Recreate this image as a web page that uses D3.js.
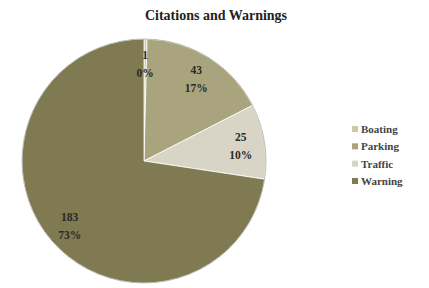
<!DOCTYPE html>
<html>
<head>
<meta charset="utf-8">
<script src="https://cdn.jsdelivr.net/npm/d3@7"></script>
<style>
  body { margin: 0; background: #fff; }
  svg { display: block; }
</style>
</head>
<body>
<svg id="chart" width="429" height="288"></svg>
<script>
const categories = ['Boating', 'Parking', 'Traffic', 'Warning']
const counts = [1, 43, 25, 183]
const percentLabels = ['0%', '17%', '10%', '73%']
const colors = ['#c9caa6', '#a9a47d', '#d8d5c6', '#7f7a52']

const width = 429
const height = 288
const cx = 144
const cy = 161
const radius = 122

const svg = d3.select('#chart')

svg.append('text')
  .attr('x', 216)
  .attr('y', 20)
  .attr('text-anchor', 'middle')
  .attr('font-family', 'Liberation Serif, serif')
  .attr('font-weight', 'bold')
  .attr('font-size', 14)
  .attr('fill', '#222')
  .text('Citations and Warnings')

const data = categories.map((c, i) => ({ name: c, value: counts[i], pct: percentLabels[i], color: colors[i] }))

const pie = d3.pie()
  .value(d => d.value)
  .sort(null)

const arcs = pie(data)
const arc = d3.arc().innerRadius(0).outerRadius(radius)
const labelArc = d3.arc().innerRadius(98).outerRadius(98)

const g = svg.append('g').attr('transform', `translate(${cx}, ${cy})`)

g.selectAll('path')
  .data(arcs)
  .enter().append('path')
  .attr('d', arc)
  .attr('fill', d => d.data.color)
  .attr('stroke', '#fff')
  .attr('stroke-width', 0.8)

// faint outer rim like the original
g.append('circle')
  .attr('r', radius)
  .attr('fill', 'none')
  .attr('stroke', '#8a8a80')
  .attr('stroke-opacity', 0.5)
  .attr('stroke-width', 1)

const labels = g.selectAll('g.lbl')
  .data(arcs)
  .enter().append('g')
  .attr('class', 'lbl')
  .attr('transform', d => `translate(${labelArc.centroid(d)})`)

labels.append('text')
  .attr('text-anchor', 'middle')
  .attr('y', -4)
  .attr('font-family', 'Liberation Serif, serif')
  .attr('font-weight', 'bold')
  .attr('font-size', 11.5)
  .attr('fill', '#2a2a2a')
  .text(d => d.data.value)

labels.append('text')
  .attr('text-anchor', 'middle')
  .attr('y', 14)
  .attr('font-family', 'Liberation Serif, serif')
  .attr('font-weight', 'bold')
  .attr('font-size', 11.5)
  .attr('fill', '#2a2a2a')
  .text(d => d.data.pct)

// legend
const legendY = d3.scalePoint()
  .domain(categories)
  .range([131, 183])

const legend = svg.append('g')
  .selectAll('g')
  .data(data)
  .enter().append('g')
  .attr('transform', d => `translate(352, ${legendY(d.name)})`)

legend.append('rect')
  .attr('x', 0)
  .attr('y', -5)
  .attr('width', 6)
  .attr('height', 6)
  .attr('fill', d => d.color)

legend.append('text')
  .attr('x', 9)
  .attr('y', 2)
  .attr('font-family', 'Liberation Serif, serif')
  .attr('font-weight', 'bold')
  .attr('font-size', 11)
  .attr('fill', '#444')
  .text(d => d.name)
</script>
</body>
</html>
